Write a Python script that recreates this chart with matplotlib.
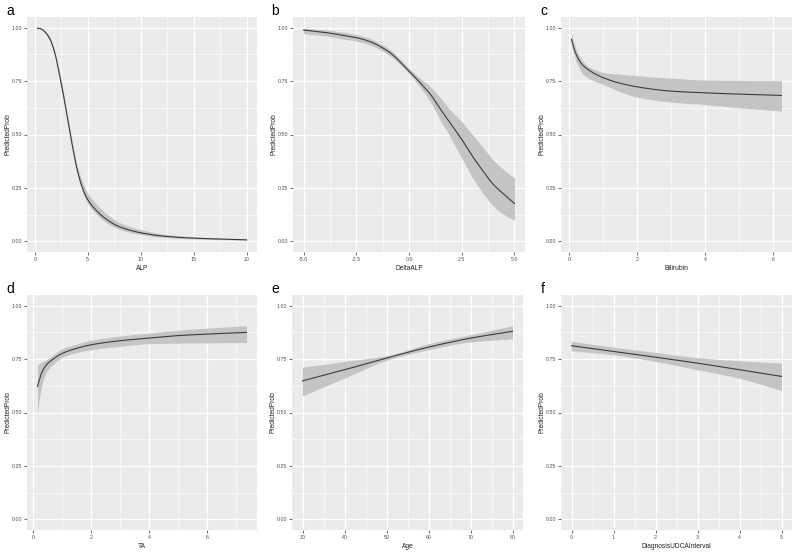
import matplotlib
matplotlib.use("Agg")
import matplotlib.pyplot as plt
import numpy as np

plt.rcParams['font.family'] = ['Liberation Sans', 'DejaVu Sans']

# ---- data ----
# a: ALP
alp_x = [0.25, 0.5, 0.75, 1, 1.25, 1.5, 1.75, 2, 2.25, 2.5, 3, 3.5, 4, 4.5, 5, 6, 7, 8, 10, 12, 15, 20]
alp_fit = [0.998, 0.996, 0.99, 0.978, 0.962, 0.94, 0.905, 0.86, 0.80, 0.74, 0.60, 0.46, 0.335, 0.25, 0.195, 0.135, 0.095, 0.068, 0.04, 0.025, 0.015, 0.007]
alp_lo = [0.996, 0.993, 0.986, 0.973, 0.956, 0.932, 0.896, 0.85, 0.79, 0.728, 0.586, 0.445, 0.32, 0.232, 0.178, 0.118, 0.08, 0.056, 0.032, 0.019, 0.011, 0.005]
alp_hi = [1.0, 0.998, 0.993, 0.983, 0.968, 0.948, 0.914, 0.87, 0.812, 0.755, 0.615, 0.478, 0.358, 0.278, 0.225, 0.165, 0.12, 0.088, 0.055, 0.035, 0.021, 0.01]

# b: DeltaALP
dalp_x = [-5, -4, -3, -2.5, -2, -1, 0, 0.5, 1, 1.5, 2, 2.5, 3, 3.5, 4, 4.5, 5]
dalp_fit = [0.989, 0.978, 0.962, 0.953, 0.94, 0.89, 0.797, 0.745, 0.69, 0.617, 0.547, 0.477, 0.40, 0.33, 0.266, 0.22, 0.177]
dalp_lo = [0.972, 0.962, 0.945, 0.937, 0.925, 0.875, 0.785, 0.725, 0.655, 0.565, 0.48, 0.39, 0.30, 0.225, 0.165, 0.125, 0.098]
dalp_hi = [0.997, 0.99, 0.977, 0.968, 0.955, 0.905, 0.81, 0.765, 0.725, 0.67, 0.61, 0.56, 0.50, 0.44, 0.38, 0.335, 0.297]

# c: Bilirubin
bil_x = [0.07, 0.15, 0.25, 0.4, 0.55, 0.75, 1.0, 1.5, 2, 3, 4, 5, 6.25]
bil_fit = [0.945, 0.9, 0.86, 0.825, 0.805, 0.785, 0.766, 0.74, 0.723, 0.703, 0.695, 0.689, 0.683]
bil_lo = [0.92, 0.87, 0.825, 0.785, 0.765, 0.75, 0.735, 0.7, 0.675, 0.652, 0.64, 0.625, 0.61]
bil_hi = [0.977, 0.925, 0.885, 0.845, 0.82, 0.805, 0.79, 0.782, 0.775, 0.764, 0.755, 0.753, 0.752]

# d: TA
ta_x = [0.15, 0.29, 0.46, 0.69, 1.03, 1.49, 2, 3, 4, 5, 6, 7.36]
ta_fit = [0.622, 0.684, 0.723, 0.75, 0.778, 0.80, 0.817, 0.836, 0.848, 0.86, 0.867, 0.875]
ta_lo = [0.50, 0.62, 0.69, 0.725, 0.76, 0.78, 0.794, 0.81, 0.822, 0.825, 0.826, 0.828]
ta_hi = [0.723, 0.735, 0.747, 0.77, 0.80, 0.82, 0.838, 0.858, 0.872, 0.885, 0.895, 0.906]

# e: Age
age_x = [30, 40, 50, 60, 70, 80]
age_fit = [0.648, 0.70, 0.755, 0.806, 0.848, 0.88]
age_lo = [0.578, 0.661, 0.744, 0.794, 0.83, 0.845]
age_hi = [0.712, 0.739, 0.766, 0.822, 0.864, 0.906]

# f: DiagnosisUDCAInterval
dui_x = [0, 1, 2, 3, 4, 5]
dui_fit = [0.8125, 0.786, 0.759, 0.731, 0.70, 0.669]
dui_lo = [0.789, 0.77, 0.739, 0.70, 0.66, 0.603]
dui_hi = [0.833, 0.806, 0.781, 0.757, 0.742, 0.731]

y_ticks = [0.0, 0.25, 0.5, 0.75, 1.0]
y_ticklabels = ["0.00", "0.25", "0.50", "0.75", "1.00"]

panels = [
    ("a", "ALP", alp_x, alp_fit, alp_lo, alp_hi, [0, 5, 10, 15, 20], ["0", "5", "10", "15", "20"]),
    ("b", "DeltaALP", dalp_x, dalp_fit, dalp_lo, dalp_hi, [-5, -2.5, 0, 2.5, 5], ["-5.0", "-2.5", "0.0", "2.5", "5.0"]),
    ("c", "Bilirubin", bil_x, bil_fit, bil_lo, bil_hi, [0, 2, 4, 6], ["0", "2", "4", "6"]),
    ("d", "TA", ta_x, ta_fit, ta_lo, ta_hi, [0, 2, 4, 6], ["0", "2", "4", "6"]),
    ("e", "Age", age_x, age_fit, age_lo, age_hi, [30, 40, 50, 60, 70, 80], ["30", "40", "50", "60", "70", "80"]),
    ("f", "DiagnosisUDCAInterval", dui_x, dui_fit, dui_lo, dui_hi, [0, 1, 2, 3, 4, 5], ["0", "1", "2", "3", "4", "5"]),
]

W, H = 800, 553
fig = plt.figure(figsize=(8, 5.53), dpi=100)

# axes boxes in pixels: (left, top, right, bottom)
boxes = [
    (27, 17, 257, 252), (293, 17, 525, 252), (561, 17, 792, 252),
    (27, 295, 257, 530), (292, 295, 523, 530), (561, 295, 792, 530),
]
label_pos = [(6, 15), (271, 15), (540, 15), (6, 293), (271, 293), (541, 293)]

def smooth(x, y, n=300):
    x = np.asarray(x, float); y = np.asarray(y, float)
    xs = np.linspace(x.min(), x.max(), n)
    h = np.diff(x); d = np.diff(y) / h
    m = np.zeros_like(y)
    m[0], m[-1] = d[0], d[-1]
    for i in range(1, len(y) - 1):
        if d[i - 1] * d[i] <= 0:
            m[i] = 0
        else:
            w1 = 2 * h[i] + h[i - 1]; w2 = h[i] + 2 * h[i - 1]
            m[i] = (w1 + w2) / (w1 / d[i - 1] + w2 / d[i])
    idx = np.clip(np.searchsorted(x, xs) - 1, 0, len(x) - 2)
    t = (xs - x[idx]) / h[idx]
    h00 = 2 * t**3 - 3 * t**2 + 1; h10 = t**3 - 2 * t**2 + t
    h01 = -2 * t**3 + 3 * t**2; h11 = t**3 - t**2
    ys = h00 * y[idx] + h10 * h[idx] * m[idx] + h01 * y[idx + 1] + h11 * h[idx] * m[idx + 1]
    return xs, ys

for (lab, xlabel, x, fit, lo, hi, xt, xtl), (l, t, r, b), (lx, ly) in zip(panels, boxes, label_pos):
    ax = fig.add_axes([l / W, 1 - b / H, (r - l) / W, (b - t) / H])
    ax.set_facecolor("#EBEBEB")
    for s in ax.spines.values():
        s.set_visible(False)
    xmin, xmax = min(x), max(x)
    pad = 0.05 * (xmax - xmin)
    ax.set_xlim(xmin - pad, xmax + pad)
    ax.set_ylim(-0.05, 1.05)
    ax.set_xticks(xt)
    ax.set_xticklabels(xtl)
    ax.set_yticks(y_ticks)
    ax.set_yticklabels(y_ticklabels)
    step = xt[1] - xt[0]
    minors_x = [v + step / 2 for v in [xt[0] - step] + list(xt)]
    minors_x = [v for v in minors_x if xmin - pad < v < xmax + pad]
    ax.set_xticks(minors_x, minor=True)
    ax.set_yticks([0.125, 0.375, 0.625, 0.875], minor=True)
    ax.grid(True, which="major", color="white", linewidth=0.9)
    ax.grid(True, which="minor", color="white", linewidth=0.45)
    ax.set_axisbelow(True)
    ax.tick_params(which="major", length=2, width=0.5, color="#333333",
                   labelsize=3.8, labelcolor="#4D4D4D", pad=1.5)
    ax.tick_params(which="minor", length=0)
    xs, ylo = smooth(x, lo)
    _, yhi = smooth(x, hi)
    _, yfit = smooth(x, fit)
    ax.fill_between(xs, ylo, yhi, color="#C4C4C4", linewidth=0, zorder=2)
    ax.plot(xs, yfit, color="#3A3A3A", linewidth=0.8, zorder=3)
    ax.set_xlabel(xlabel, fontsize=4.8, color="#222222", labelpad=2)
    ax.set_ylabel("PredictedProb", fontsize=4.8, color="#222222")
    ax.yaxis.set_label_coords(-15.5 / (r - l), 0.5)
    fig.text(lx / W, 1 - ly / H, lab, fontsize=10, color="black", ha="left", va="baseline")

fig.savefig("out.png", dpi=100)
